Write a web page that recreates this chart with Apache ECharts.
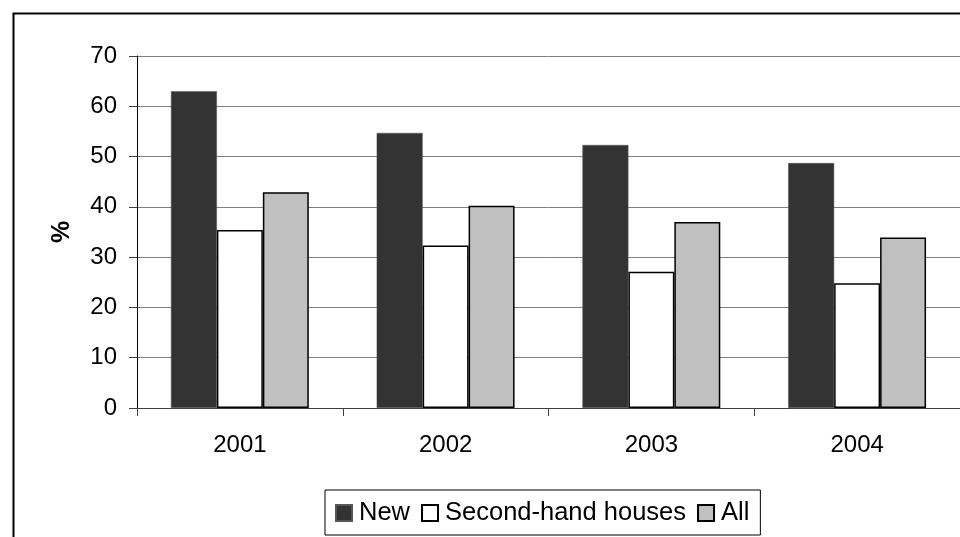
<!DOCTYPE html>
<html>
<head>
<meta charset="utf-8">
<script src="https://cdn.jsdelivr.net/npm/echarts@6/dist/echarts.min.js"></script>
<style>
  html, body { margin: 0; padding: 0; background: #fff; }
  #chart { width: 960px; height: 537px; }
</style>
</head>
<body>
<div id="chart"></div>
<script>
// 数据
var years = ['2001', '2002', '2003', '2004']
var newHouses = [63.0, 54.7, 52.3, 48.7]
var secondHand = [35.4, 32.3, 27.1, 24.8]
var allHouses = [42.9, 40.2, 37.0, 33.9]
var yTicks = { min: 0, max: 70, interval: 10 }

var font = 'Liberation Sans, Arial, sans-serif'

var option = {
  animation: false,
  backgroundColor: '#FFFFFF',
  textStyle: { fontFamily: font },
  grid: {
    left: 137,
    top: 56,
    right: -1,
    bottom: 129,
    containLabel: false
  },
  legend: {
    left: 325,
    top: 490,
    padding: [10, 11, 9, 10],
    itemWidth: 16,
    itemHeight: 16,
    itemGap: 11,
    borderColor: '#000000',
    borderWidth: 1,
    icon: 'rect',
    textStyle: { fontFamily: font, fontSize: 25.5, color: '#000000', padding: [0, 0, 0, 2] },
    data: ['New', 'Second-hand houses', 'All']
  },
  xAxis: [{
    type: 'category',
    data: years,
    axisLine: { show: true, lineStyle: { color: '#404040', width: 1 } },
    axisTick: { show: true, length: 8, inside: false, lineStyle: { color: '#404040' } },
    axisLabel: { fontFamily: font, fontSize: 24, color: '#000000', margin: 25 },
    splitLine: { show: false }
  }],
  yAxis: [{
    type: 'value',
    min: yTicks.min,
    max: yTicks.max,
    interval: yTicks.interval,
    name: '%',
    nameLocation: 'middle',
    nameGap: 62,
    nameRotate: 90,
    nameTextStyle: { fontFamily: font, fontSize: 25, fontWeight: 'bold', color: '#000000' },
    axisLine: { show: true, lineStyle: { color: '#000000', width: 1 } },
    axisTick: { show: true, length: 8, inside: false, lineStyle: { color: '#404040' } },
    axisLabel: { fontFamily: font, fontSize: 24, color: '#000000', margin: 20 },
    splitLine: { show: true, lineStyle: { color: '#7f7f7f', width: 1 } }
  }],
  series: [
    {
      name: 'New',
      type: 'bar',
      barGap: '0%',
      barCategoryGap: '33%',
      itemStyle: { color: '#333333', borderColor: '#555555', borderWidth: 0.5 },
      data: newHouses
    },
    {
      name: 'Second-hand houses',
      type: 'bar',
      barGap: '0%',
      barCategoryGap: '33%',
      itemStyle: { color: '#FFFFFF', borderColor: '#000000', borderWidth: 1.5 },
      data: secondHand
    },
    {
      name: 'All',
      type: 'bar',
      barGap: '0%',
      barCategoryGap: '33%',
      itemStyle: { color: '#C0C0C0', borderColor: '#000000', borderWidth: 1.5 },
      data: allHouses
    }
  ],
  graphic: [{
    type: 'rect',
    left: 11,
    top: 11,
    shape: { width: 1000, height: 600 },
    style: { fill: 'none', stroke: '#000000', lineWidth: 2 },
    silent: true,
    z: 100
  }]
}

echarts.init(document.getElementById('chart')).setOption(option)
</script>
</body>
</html>
